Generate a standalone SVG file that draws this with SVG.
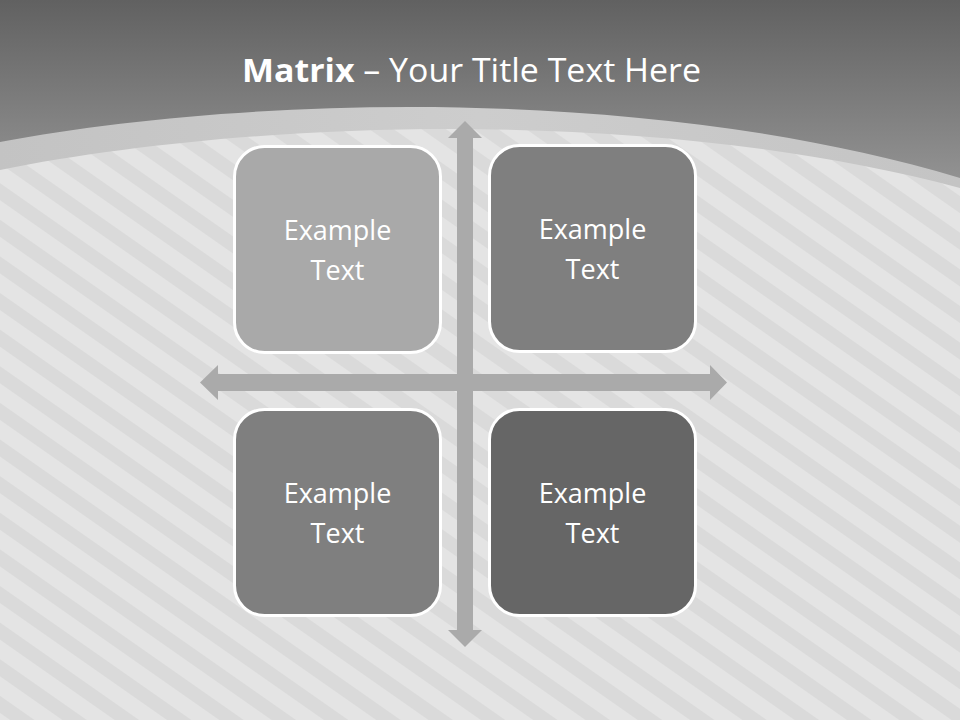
<svg xmlns="http://www.w3.org/2000/svg" width="960" height="720" viewBox="0 0 960 720">
  <defs>
    <pattern id="stripes" patternUnits="userSpaceOnUse" width="30" height="30" patternTransform="rotate(35)">
      <rect x="0" y="0" width="30" height="30" fill="#e4e4e4"/>
      <rect x="0" y="0" width="30" height="14" fill="#dadada"/>
    </pattern>
    <linearGradient id="topGrad" x1="0" y1="0" x2="0" y2="190" gradientUnits="userSpaceOnUse">
      <stop offset="0" stop-color="#616161"/>
      <stop offset="1" stop-color="#959595"/>
    </linearGradient>
    <linearGradient id="bandGrad" x1="0" y1="0" x2="960" y2="0" gradientUnits="userSpaceOnUse">
      <stop offset="0" stop-color="#c3c3c3"/>
      <stop offset="0.5" stop-color="#cdcdcd"/>
      <stop offset="1" stop-color="#c4c4c4"/>
    </linearGradient>
    <style>
      .box { stroke: #ffffff; stroke-width: 3; }
      .lbl { font-family: "Open Sans", "Liberation Sans", sans-serif; font-size: 27px; fill: #ffffff; text-anchor: middle; }
      .arrow { fill: #aaaaaa; }
      .title { font-family: "Open Sans", "Liberation Sans", sans-serif; font-size: 33px; fill: #ffffff; }
    </style>
  </defs>

  <!-- background -->
  <rect x="0" y="0" width="960" height="720" fill="url(#stripes)"/>
  <path d="M0,0 H960 V188 C650,105 250,120 0,170 Z" fill="url(#bandGrad)"/>
  <path d="M0,0 H960 V178 C650,85 250,95 0,142 Z" fill="url(#topGrad)"/>

  <text class="title" x="242" y="82" textLength="459" lengthAdjust="spacingAndGlyphs"><tspan font-weight="bold">Matrix</tspan> – Your Title Text Here</text>

  <g id="connectors">
    <polygon class="arrow" points="465,121 482,138 473,138 473,630 482,630 465,647 448,630 457,630 457,138 448,138"/>
    <polygon class="arrow" points="200,382.5 218,365 218,374 710,374 710,365 727,382.5 710,400 710,391 218,391 218,400"/>
  </g>

  <g id="node-tl">
    <rect class="box" x="234.5" y="146.5" width="206" height="206" rx="30" fill="#a9a9a9"/>
    <text class="lbl" x="337.5" y="240">Example</text>
    <text class="lbl" x="337.5" y="280">Text</text>
  </g>
  <g id="node-tr">
    <rect class="box" x="489.5" y="145.5" width="206" height="206" rx="30" fill="#7f7f7f"/>
    <text class="lbl" x="592.5" y="239">Example</text>
    <text class="lbl" x="592.5" y="279">Text</text>
  </g>
  <g id="node-bl">
    <rect class="box" x="234.5" y="409.5" width="206" height="206" rx="30" fill="#7f7f7f"/>
    <text class="lbl" x="337.5" y="503">Example</text>
    <text class="lbl" x="337.5" y="543">Text</text>
  </g>
  <g id="node-br">
    <rect class="box" x="489.5" y="409.5" width="206" height="206" rx="30" fill="#666666"/>
    <text class="lbl" x="592.5" y="503">Example</text>
    <text class="lbl" x="592.5" y="543">Text</text>
  </g>
</svg>
